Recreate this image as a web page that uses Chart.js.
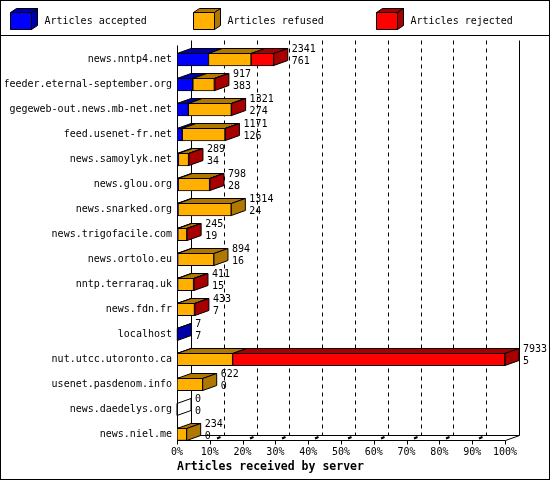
<!DOCTYPE html>
<html>
<head>
<meta charset="utf-8">
<title>Articles received by server</title>
<script src="https://cdn.jsdelivr.net/npm/chart.js@4.4.1/dist/chart.umd.min.js"></script>
<style>
  html, body { margin: 0; padding: 0; background: #fff; }
  canvas { display: block; }
</style>
</head>
<body>
<canvas id="feedChart" width="550" height="480"></canvas>
<script>
const servers = [
    'news.nntp4.net', 'feeder.eternal-september.org', 'gegeweb-out.news.mb-net.net',
    'feed.usenet-fr.net', 'news.samoylyk.net', 'news.glou.org', 'news.snarked.org',
    'news.trigofacile.com', 'news.ortolo.eu', 'nntp.terraraq.uk', 'news.fdn.fr',
    'localhost', 'nut.utcc.utoronto.ca', 'usenet.pasdenom.info', 'news.daedelys.org',
    'news.niel.me'
];
const offered  = [2341, 917, 1321, 1171, 289, 798, 1314, 245, 894, 411, 433, 7, 7933, 622, 0, 234];
const accepted = [761, 383, 274, 126, 34, 28, 24, 19, 16, 15, 7, 7, 5, 0, 0, 0];
const refused  = [1030, 520, 1040, 1035, 245, 760, 1290, 220, 878, 385, 415, 0, 1340, 622, 0, 234];
const rejected = [550, 14, 7, 10, 10, 10, 0, 6, 0, 11, 11, 0, 6588, 0, 0, 0];

const seriesNames = ['Articles accepted', 'Articles refused', 'Articles rejected'];
const pctTicks  = [0, 10, 20, 30, 40, 50, 60, 70, 80, 90, 100];
const pctLabels = ['0%', '10%', '20%', '30%', '40%', '50%', '60%', '70%', '80%', '90%', '100%'];

const frontColors = ['#0000ff', '#ffb000', '#ff0000'];
const shadeColors = ['#0000a8', '#b07800', '#a80000'];
const xMax = Math.max(...offered);

const DX = 14, DY = 5;
const MONO = '"DejaVu Sans Mono", monospace';

function poly(ctx, pts, fill) {
    ctx.beginPath();
    ctx.moveTo(pts[0][0], pts[0][1]);
    for (let i = 1; i < pts.length; i++) ctx.lineTo(pts[i][0], pts[i][1]);
    ctx.closePath();
    if (fill) { ctx.fillStyle = fill; ctx.fill(); }
    ctx.strokeStyle = '#000';
    ctx.lineWidth = 1;
    ctx.stroke();
}

function seg(ctx, x1, y1, x2, y2) {
    ctx.beginPath();
    ctx.moveTo(x1, y1);
    ctx.lineTo(x2, y2);
    ctx.stroke();
}

// back wall, dashed grid and floor of the 3d box
const box3d = {
    id: 'box3d',
    beforeDatasetsDraw(chart) {
        const { ctx, chartArea: a, scales: { x } } = chart;
        const lastBar = chart.getDatasetMeta(0).data[servers.length - 1];
        const fy = Math.round(lastBar.y + lastBar.height / 2) - 0.5;
        const top = Math.round(a.top) - 6.5;
        const l = Math.round(a.left) + 0.5;
        const r = Math.round(a.right) + 0.5;
        ctx.save();
        ctx.strokeStyle = '#000';
        ctx.lineWidth = 1;

        ctx.setLineDash([4, 4]);
        x.ticks.forEach((t, i) => {
            if (i === 0 || i === x.ticks.length - 1) return;
            const px = Math.round(x.getPixelForValue(t.value)) + DX + 0.5;
            seg(ctx, px, top, px, fy - DY);
        });
        ctx.setLineDash([]);

        seg(ctx, l + DX, top, l + DX, fy - DY);
        seg(ctx, r + DX, top, r + DX, fy - DY);
        seg(ctx, l, top + DY, l, fy);
        seg(ctx, l, fy, r, fy);
        seg(ctx, l + DX, fy - DY, r + DX, fy - DY);
        seg(ctx, r, fy, r + DX, fy - DY);

        x.ticks.forEach((t, i) => {
            const px = Math.round(x.getPixelForValue(t.value)) + 0.5;
            seg(ctx, px, fy, px, fy + 4);
            if (i > 0 && i < x.ticks.length - 1) {
                ctx.lineWidth = 2;
                seg(ctx, px + 6.5, fy - 2, px + 10, fy - 3.5);
                ctx.lineWidth = 1;
            }
        });
        ctx.restore();
    },
    afterDatasetsDraw(chart) {
        const { ctx, scales: { x } } = chart;
        const values = [accepted, refused, rejected];
        const metas = [0, 1, 2].map(d => chart.getDatasetMeta(d));
        ctx.save();
        servers.forEach((name, i) => {
            const b0 = metas[0].data[i];
            const yTop = Math.round(b0.y - b0.height / 2) + 0.5;
            const yBot = Math.round(b0.y + b0.height / 2) - 0.5;
            let lastIdx = -1;
            values.forEach((vals, d) => {
                if (vals[i] <= 0) return;
                const el = metas[d].data[i];
                const x0 = el.base, x1 = el.x;
                poly(ctx, [[x0, yTop], [x1, yTop], [x1 + DX, yTop - DY], [x0 + DX, yTop - DY]], shadeColors[d]);
                lastIdx = d;
            });
            const end = x.getPixelForValue(offered[i]);
            poly(ctx, [[end, yTop], [end + DX, yTop - DY], [end + DX, yBot - DY], [end, yBot]],
                 lastIdx >= 0 ? shadeColors[lastIdx] : null);

            ctx.fillStyle = '#000';
            ctx.font = '10px ' + MONO;
            ctx.textAlign = 'left';
            ctx.textBaseline = 'middle';
            ctx.fillText(String(offered[i]), end + DX + 4, b0.y - 10);
            ctx.fillText(String(accepted[i]), end + DX + 4, b0.y + 2);
        });
        ctx.restore();
    },
    afterDraw(chart) {
        const { ctx } = chart;
        ctx.save();
        ctx.strokeStyle = '#000';
        ctx.lineWidth = 1;
        ctx.strokeRect(0.5, 0.5, chart.width - 1, chart.height - 1);
        seg(ctx, 0, 35.5, chart.width, 35.5);

        chart.data.datasets.forEach((ds, k) => {
            const cx = 10.5 + k * 183, cy = 12.5, w = 21, h = 17, dx = 6, dy = 4;
            poly(ctx, [[cx, cy], [cx + w, cy], [cx + w + dx, cy - dy], [cx + dx, cy - dy]], shadeColors[k]);
            poly(ctx, [[cx + w, cy], [cx + w + dx, cy - dy], [cx + w + dx, cy + h - dy], [cx + w, cy + h]], shadeColors[k]);
            poly(ctx, [[cx, cy], [cx + w, cy], [cx + w, cy + h], [cx, cy + h]], ds.backgroundColor);
            ctx.fillStyle = '#000';
            ctx.font = '10px ' + MONO;
            ctx.textAlign = 'left';
            ctx.textBaseline = 'middle';
            ctx.fillText(ds.label, cx + 34, 21);
        });
        ctx.restore();
    }
};

const ctx = document.getElementById('feedChart').getContext('2d');
Chart.defaults.font.family = MONO;
Chart.defaults.font.size = 10;
Chart.defaults.color = '#000';

new Chart(ctx, {
    type: 'bar',
    data: {
        labels: servers,
        datasets: [accepted, refused, rejected].map((vals, d) => ({
            label: seriesNames[d],
            data: vals,
            backgroundColor: frontColors[d],
            borderColor: '#000',
            borderWidth: 1,
            borderSkipped: false,
            barThickness: 13
        }))
    },
    options: {
        indexAxis: 'y',
        responsive: false,
        animation: false,
        devicePixelRatio: 1,
        layout: { padding: { top: 47, left: 5, right: 45, bottom: 0 } },
        plugins: {
            legend: { display: false },
            tooltip: { enabled: false }
        },
        scales: {
            x: {
                type: 'linear',
                stacked: true,
                min: 0,
                max: xMax,
                grid: { display: false, drawTicks: false },
                border: { display: false },
                afterBuildTicks: scale => {
                    scale.ticks = pctTicks.map(p => ({ value: p * xMax / 100 }));
                },
                afterFit: scale => { scale.height = 33.5; },
                ticks: {
                    autoSkip: false,
                    maxRotation: 0,
                    padding: 0,
                    callback: (v, i) => pctLabels[i]
                },
                title: {
                    display: true,
                    text: 'Articles received by server',
                    align: 'start',
                    font: { family: MONO, size: 11.5, weight: 'bold' },
                    padding: { top: 0, bottom: 6.5 }
                }
            },
            y: {
                stacked: true,
                grid: { display: false, drawTicks: false },
                border: { display: false },
                afterFit: scale => { scale.width = 172; },
                ticks: { autoSkip: false, padding: 5 }
            }
        }
    },
    plugins: [box3d]
});
</script>
</body>
</html>
